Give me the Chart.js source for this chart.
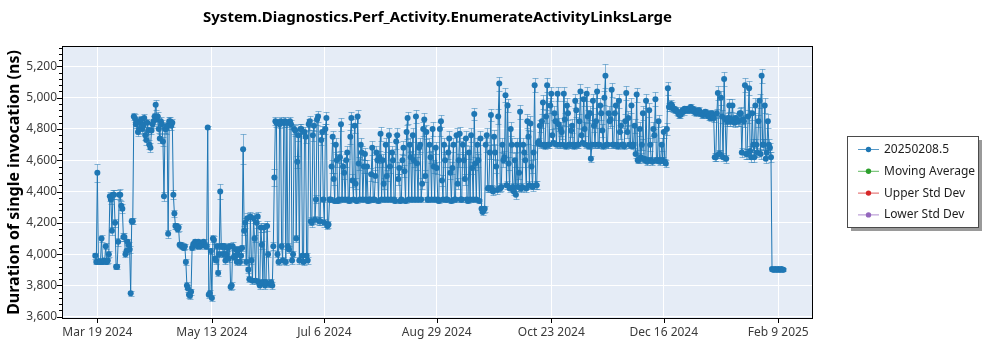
<!DOCTYPE html>
<html>
<head>
<meta charset="utf-8">
<script src="https://cdn.jsdelivr.net/npm/chart.js@4.4.1/dist/chart.umd.min.js"></script>
<style>
  html, body { margin: 0; padding: 0; background: #ffffff; }
  #wrap { width: 1000px; height: 350px; position: relative; }
</style>
</head>
<body>
<div id="wrap"><canvas id="perf" width="1000" height="350"></canvas></div>
<script>
// Benchmark history: two runs per day, x = days after Mar 18 2024
const chartTitle = 'System.Diagnostics.Perf_Activity.EnumerateActivityLinksLarge';
const yAxisTitle = 'Duration of single invocation (ns)';
const seriesNames = ['20250208.5', 'Moving Average', 'Upper Std Dev', 'Lower Std Dev'];
const seriesColors = ['#1f77b4', '#2ca02c', '#d62728', '#9467bd'];

const xTickDays = [1, 56, 110, 164, 219, 273, 328];
const xTickLabels = ['Mar 19 2024', 'May 13 2024', 'Jul 6 2024', 'Aug 29 2024', 'Oct 23 2024', 'Dec 16 2024', 'Feb 9 2025'];
const yTickValues = [3600, 3800, 4000, 4200, 4400, 4600, 4800, 5000, 5200];

// Mean duration (ns), morning run of each day
const durations = [
  3990, 4520, 3955, 4100, 3960, 4050, 3960, 4370, 4150, 4380,
  3920, 4080, 4380, 4290, 4110, 4020, 4060, 3750, 4210, 4870,
  4850, 4800, 4860, 4820, 4760, 4840, 4700, 4790, 4850, 4955,
  4880, 4740, 4830, 4370, 4800, 4130, 4850, 4840, 4260, 4180,
  4170, 4060, 4050, 4050, 3800, 3740, 3760, 4060, 4080, 4050,
  4070, 4060, 4080, 4050, 4810, 3750, 3720, 4090, 3960, 3880,
  4400, 4050, 4050, 4000, 3970, 3790, 4050, 3990, 3950, 4030,
  3990, 4670, 4200, 4230, 3840, 3960, 4230, 3830, 4240, 3800,
  4060, 4170, 3820, 4000, 3810, 3800, 4490, 4840, 3950, 4850,
  3960, 4850, 4840, 4030, 4830, 4000, 4790, 4590, 3960, 4800,
  3950, 4750, 3960, 4850, 4200, 4820, 4350, 4880, 4210, 4780,
  4200, 4870, 4190, 4350, 4750, 4340, 4600, 4350, 4830, 4560,
  4350, 4650, 4340, 4870, 4350, 4450, 4880, 4350, 4650, 4560,
  4350, 4340, 4350, 4680, 4350, 4650, 4340, 4770, 4600, 4350,
  4500, 4760, 4350, 4600, 4340, 4760, 4550, 4350, 4680, 4340,
  4870, 4700, 4350, 4600, 4880, 4350, 4700, 4450, 4860, 4780,
  4350, 4620, 4800, 4350, 4550, 4340, 4850, 4350, 4600, 4350,
  4740, 4340, 4700, 4350, 4450, 4770, 4350, 4600, 4740, 4340,
  4350, 4550, 4895, 4350, 4600, 4740, 4270, 4290, 4760, 4420,
  4890, 4400, 4650, 4410, 5090, 4430, 4600, 5015, 4950, 4420,
  4700, 4400, 4380, 4430, 4910, 4430, 4650, 4420, 4750, 4835,
  4430, 5080, 4440, 4720, 4700, 4970, 4690, 5080, 4700, 5025,
  4710, 4850, 5025, 4700, 4780, 5025, 4690, 4900, 4700, 4820,
  4690, 4920, 4700, 5040, 4710, 4800, 5025, 4690, 4610, 4980,
  4700, 5040, 4700, 4900, 4690, 5140, 4700, 4850, 5050, 4700,
  4950, 4690, 4780, 4700, 4690, 5030, 4870, 4700, 4690, 4820,
  5020, 4600, 4620, 4900, 4600, 4590, 4920, 4600, 4800, 4990,
  4600, 4590, 4700, 4780, 4580, 5060, 4940, 4950, 4930, 4920,
  4900, 4890, 4920, 4930, 4925, 4920, 4940, 4930, 4920, 4910,
  4920, 4900, 4890, 4910, 4900, 4880, 4900, 4870, 4620, 5030,
  4640, 4880, 5120, 4610, 4870, 4850, 4950, 4840, 4860, 4850,
  4900, 4860, 5080, 4640, 5060, 4620, 4700, 4950, 4650, 4980,
  5140, 4700, 4610, 4850, 4680, 3905, 3900, 3900, 3905, 3900,
  3900
];

// Mean duration (ns), evening run of each day
const durationsLate = [
  3950, 3955, 3950, 3950, 3955, 3950, 4000, 4350, 4380, 4200,
  3920, 4380, 4310, 4110, 4000, 4080, 4030, 4210, 4880, 4830,
  4780, 4840, 4800, 4870, 4730, 4790, 4680, 4830, 4880, 4860,
  4800, 4850, 4720, 4800, 4820, 4850, 4820, 4380, 4180, 4160,
  4060, 4050, 4040, 3950, 3780, 3735, 4040, 4070, 4060, 4080,
  4050, 4070, 4060, 4050, 3740, 4020, 4100, 3970, 4050, 4000,
  4050, 4000, 3960, 4040, 4050, 3800, 3980, 4030, 4000, 3950,
  4040, 4150, 3950, 3900, 4240, 3830, 4100, 4200, 3820, 4170,
  3820, 3800, 4180, 3810, 3820, 4050, 4850, 4000, 4830, 4050,
  4840, 3950, 4050, 4850, 3960, 4800, 4100, 4760, 4800, 3990,
  4780, 3990, 4830, 4210, 4760, 4220, 4860, 4210, 4730, 4350,
  4800, 4180, 4350, 4560, 4480, 4700, 4340, 4620, 4350, 4520,
  4600, 4350, 4750, 4470, 4820, 4340, 4580, 4700, 4350, 4640,
  4560, 4350, 4510, 4350, 4500, 4600, 4620, 4350, 4450, 4700,
  4350, 4560, 4650, 4350, 4720, 4480, 4340, 4600, 4530, 4780,
  4350, 4620, 4760, 4350, 4580, 4680, 4350, 4800, 4500, 4350,
  4700, 4350, 4560, 4680, 4350, 4800, 4470, 4700, 4350, 4650,
  4520, 4550, 4350, 4760, 4600, 4350, 4700, 4480, 4350, 4650,
  4760, 4350, 4580, 4700, 4340, 4290, 4280, 4700, 4420, 4650,
  4420, 4750, 4560, 4880, 4420, 4700, 4620, 4440, 4580, 4800,
  4430, 4600, 4700, 4520, 4420, 4700, 4600, 4850, 4440, 4560,
  4650, 4440, 4710, 4820, 4850, 4700, 4880, 4700, 4950, 4760,
  4900, 4700, 4830, 4800, 4700, 4860, 4950, 4700, 4790, 4700,
  4980, 4700, 4850, 4760, 4990, 4700, 4880, 4900, 4700, 4820,
  4850, 4700, 4950, 4790, 5000, 4700, 4900, 4860, 4700, 4900,
  4700, 4980, 4820, 4700, 4850, 4780, 4700, 4950, 4700, 4640,
  4600, 4800, 4700, 4610, 4980, 4600, 4700, 4590, 4760, 4600,
  4850, 4600, 4600, 4590, 4800, 4940, 4960, 4930, 4920, 4910,
  4890, 4900, 4910, 4920, 4930, 4930, 4920, 4910, 4900, 4910,
  4900, 4890, 4900, 4890, 4880, 4870, 4880, 4620, 4900, 4640,
  5000, 4620, 4860, 4850, 4950, 4860, 4850, 4870, 4850, 4900,
  4650, 4850, 4640, 4880, 4660, 4900, 4620, 4700, 4850, 4640,
  4700, 4950, 4650, 4700, 4620, 3900, 3905, 3900, 3900, 3905,
  3900
];

// Half-width of the error bar (ns), morning runs
const stdErrors = [
  20, 57, 15, 25, 15, 20, 15, 30, 25, 30,
  15, 25, 35, 30, 25, 20, 20, 15, 20, 25,
  25, 30, 25, 25, 30, 25, 30, 25, 30, 32,
  30, 30, 25, 30, 30, 25, 25, 25, 25, 20,
  20, 20, 15, 15, 20, 20, 20, 15, 15, 15,
  15, 15, 15, 15, 10, 20, 20, 25, 20, 20,
  50, 20, 20, 20, 20, 20, 25, 20, 20, 20,
  20, 95, 30, 30, 20, 25, 30, 20, 30, 20,
  25, 30, 20, 20, 20, 20, 55, 25, 20, 25,
  20, 25, 25, 20, 30, 20, 35, 40, 20, 35,
  20, 40, 20, 35, 25, 35, 25, 35, 25, 40,
  25, 40, 20, 15, 40, 15, 40, 15, 40, 40,
  15, 40, 15, 40, 15, 35, 40, 15, 40, 40,
  15, 15, 15, 45, 15, 40, 15, 45, 40, 15,
  35, 45, 15, 40, 15, 45, 40, 15, 45, 15,
  40, 45, 15, 40, 40, 15, 45, 35, 40, 45,
  15, 40, 45, 15, 40, 15, 40, 15, 40, 15,
  45, 15, 45, 15, 35, 45, 15, 40, 45, 15,
  15, 40, 40, 15, 40, 45, 20, 20, 45, 25,
  40, 25, 45, 25, 45, 25, 45, 45, 40, 25,
  45, 25, 25, 25, 45, 25, 45, 25, 45, 45,
  25, 45, 25, 25, 20, 45, 20, 45, 20, 45,
  20, 45, 45, 20, 45, 45, 20, 45, 20, 45,
  20, 45, 20, 45, 20, 45, 45, 20, 20, 45,
  20, 45, 20, 45, 20, 77, 20, 45, 45, 20,
  45, 20, 45, 20, 20, 45, 45, 20, 20, 45,
  45, 20, 25, 45, 20, 20, 45, 20, 45, 45,
  20, 20, 40, 40, 20, 40, 25, 20, 20, 20,
  20, 20, 20, 20, 20, 20, 20, 20, 20, 20,
  20, 20, 20, 20, 20, 20, 20, 25, 25, 45,
  25, 40, 45, 25, 35, 30, 40, 30, 30, 30,
  40, 30, 45, 30, 45, 30, 35, 45, 30, 45,
  45, 35, 30, 45, 30, 10, 10, 10, 10, 10,
  10
];

// Half-width of the error bar (ns), evening runs
const stdErrorsLate = [
  15, 15, 15, 15, 15, 15, 20, 30, 30, 25,
  15, 30, 30, 25, 20, 20, 20, 20, 25, 25,
  25, 25, 25, 25, 30, 25, 30, 25, 25, 25,
  25, 25, 30, 25, 25, 25, 25, 30, 20, 20,
  15, 15, 15, 20, 20, 20, 15, 15, 15, 15,
  15, 15, 15, 15, 20, 20, 25, 20, 20, 20,
  20, 20, 20, 20, 20, 20, 20, 20, 20, 20,
  20, 30, 20, 20, 30, 20, 25, 30, 20, 30,
  20, 20, 30, 20, 20, 25, 25, 20, 25, 20,
  25, 20, 20, 25, 20, 30, 25, 35, 30, 20,
  35, 20, 35, 25, 35, 25, 35, 25, 35, 15,
  35, 20, 15, 40, 40, 45, 15, 40, 15, 40,
  40, 15, 45, 40, 45, 15, 40, 45, 15, 40,
  40, 15, 40, 15, 40, 40, 40, 15, 35, 45,
  15, 40, 40, 15, 45, 35, 15, 40, 40, 45,
  15, 40, 45, 15, 40, 40, 15, 45, 40, 15,
  45, 15, 40, 40, 15, 45, 35, 45, 15, 40,
  40, 40, 15, 45, 40, 15, 45, 35, 15, 40,
  45, 15, 40, 45, 15, 20, 20, 45, 25, 45,
  25, 45, 40, 45, 25, 45, 40, 25, 40, 45,
  25, 45, 45, 40, 25, 45, 40, 45, 25, 40,
  45, 25, 20, 40, 45, 20, 40, 20, 45, 40,
  45, 20, 40, 45, 20, 40, 45, 20, 40, 20,
  45, 20, 45, 40, 45, 20, 40, 45, 20, 40,
  45, 20, 45, 40, 45, 20, 45, 40, 20, 45,
  20, 45, 40, 20, 45, 40, 20, 45, 20, 25,
  20, 45, 35, 20, 45, 20, 40, 20, 40, 20,
  40, 20, 20, 20, 40, 25, 25, 20, 20, 20,
  20, 20, 20, 20, 20, 20, 20, 20, 20, 20,
  20, 20, 20, 20, 20, 20, 20, 25, 30, 25,
  45, 25, 30, 30, 40, 30, 30, 30, 30, 35,
  30, 35, 30, 40, 30, 40, 30, 35, 40, 30,
  35, 45, 30, 35, 30, 10, 10, 10, 10, 10,
  10
];

// Interleave the two daily runs into one time-ordered series
const runPoints = [];
const runErrors = [];
durations.forEach((v, day) => {
  runPoints.push({ x: day, y: v });
  runErrors.push(stdErrors[day]);
  runPoints.push({ x: day + 0.5, y: durationsLate[day] });
  runErrors.push(stdErrorsLate[day]);
});

const FONT = '"Noto Sans", "Open Sans", sans-serif';
const TICK_COLOR = '#3a3a3a';

// Plot background, error bars, frame, axis tick marks, titles and legend box
const decorations = {
  id: 'decorations',
  beforeDraw(chart) {
    const { ctx, chartArea: a } = chart;
    ctx.save();
    ctx.fillStyle = '#e5ecf6';
    ctx.fillRect(a.left, a.top, a.right - a.left, a.bottom - a.top);
    ctx.restore();
  },
  beforeDatasetsDraw(chart) {
    const { ctx, chartArea: a, scales } = chart;
    const pts = chart.data.datasets[0].data;
    ctx.save();
    ctx.beginPath();
    ctx.rect(a.left, a.top, a.right - a.left, a.bottom - a.top);
    ctx.clip();
    ctx.strokeStyle = 'rgba(31,119,180,0.5)';
    ctx.lineWidth = 1;
    ctx.beginPath();
    pts.forEach((p, i) => {
      const e = runErrors[i];
      const px = Math.round(scales.x.getPixelForValue(p.x)) + 0.5;
      const top = Math.round(scales.y.getPixelForValue(p.y + e)) + 0.5;
      const bot = Math.round(scales.y.getPixelForValue(p.y - e)) + 0.5;
      ctx.moveTo(px, top); ctx.lineTo(px, bot);
      ctx.moveTo(px - 3, top); ctx.lineTo(px + 3, top);
      ctx.moveTo(px - 3, bot); ctx.lineTo(px + 3, bot);
    });
    ctx.stroke();
    ctx.restore();
  },
  afterDraw(chart) {
    const { ctx, chartArea: a, scales } = chart;
    ctx.save();
    // frame
    ctx.strokeStyle = '#000000';
    ctx.lineWidth = 1;
    ctx.strokeRect(Math.round(a.left) - 0.5, Math.round(a.top) - 0.5,
                   Math.round(a.right - a.left) + 1, Math.round(a.bottom - a.top) + 1);
    // y tick marks: major every 200, minor every 40
    ctx.beginPath();
    for (let v = 3600; v <= 5320; v += 40) {
      const y = Math.round(scales.y.getPixelForValue(v)) + 0.5;
      const len = (v % 200 === 0) ? 5 : 3;
      ctx.moveTo(a.left - 1, y); ctx.lineTo(a.left - 1 - len, y);
    }
    // x tick marks
    xTickDays.forEach(d => {
      const x = Math.round(scales.x.getPixelForValue(d)) + 0.5;
      ctx.moveTo(x, a.bottom); ctx.lineTo(x, a.bottom + 5);
    });
    ctx.stroke();

    // chart title, centred over the plot area
    ctx.fillStyle = '#000000';
    ctx.font = 'bold 15px ' + FONT;
    ctx.textAlign = 'center';
    ctx.textBaseline = 'middle';
    ctx.fillText(chartTitle, (a.left + a.right) / 2, 18);

    // y axis title
    ctx.save();
    ctx.translate(14, (a.top + a.bottom) / 2);
    ctx.rotate(-Math.PI / 2);
    ctx.font = 'bold 16px ' + FONT;
    ctx.fillText(yAxisTitle, 0, 0);
    ctx.restore();

    // legend box with drop shadow
    const bx = 847.5, by = 136.5, bw = 131, bh = 91;
    ctx.fillStyle = '#9a9a9a';
    ctx.fillRect(bx + 3.5, by + 3.5, bw, bh);
    ctx.fillStyle = '#ffffff';
    ctx.fillRect(bx, by, bw, bh);
    ctx.strokeStyle = '#4a4a4a';
    ctx.strokeRect(bx, by, bw, bh);
    ctx.font = '12px ' + FONT;
    ctx.textAlign = 'left';
    ctx.textBaseline = 'middle';
    chart.data.datasets.forEach((ds, i) => {
      const ry = 149.5 + i * 21.8;
      ctx.strokeStyle = ds.borderColor;
      ctx.globalAlpha = 0.75;
      ctx.lineWidth = 1;
      ctx.beginPath();
      ctx.moveTo(858, ry); ctx.lineTo(879, ry);
      ctx.stroke();
      ctx.globalAlpha = 1;
      ctx.fillStyle = ds.borderColor;
      ctx.beginPath();
      ctx.arc(868.5, ry, 2.7, 0, Math.PI * 2);
      ctx.fill();
      ctx.fillStyle = '#1e1e1e';
      ctx.fillText(ds.label, 884, ry);
    });
    ctx.restore();
  }
};

const datasets = seriesNames.map((name, k) => ({
  label: name,
  data: k === 0 ? runPoints : [],
  borderColor: seriesColors[k],
  backgroundColor: seriesColors[k],
  borderWidth: 1,
  pointRadius: 3,
  pointBorderWidth: 0,
  pointBackgroundColor: seriesColors[k],
  tension: 0
}));

new Chart(document.getElementById('perf'), {
  type: 'line',
  data: { datasets },
  options: {
    responsive: false,
    animation: false,
    devicePixelRatio: 1,
    layout: { padding: { left: 0, right: 188, top: 47, bottom: 0 } },
    plugins: {
      legend: { display: false },
      title: { display: false },
      tooltip: { enabled: false }
    },
    scales: {
      x: {
        type: 'linear',
        min: -15.5,
        max: 344.2,
        border: { display: false },
        grid: { color: '#ffffff', lineWidth: 1, drawTicks: false },
        afterBuildTicks: s => { s.ticks = xTickDays.map(v => ({ value: v })); },
        afterFit: s => { s.height = 32; },
        ticks: {
          padding: 7,
          maxRotation: 0,
          autoSkip: false,
          color: TICK_COLOR,
          font: { family: FONT, size: 12 },
          callback: v => xTickLabels[xTickDays.indexOf(v)]
        }
      },
      y: {
        type: 'linear',
        min: 3592,
        max: 5324,
        border: { display: false },
        grid: { color: '#ffffff', lineWidth: 1, drawTicks: false },
        afterBuildTicks: s => { s.ticks = yTickValues.map(v => ({ value: v })); },
        afterFit: s => { s.width = 63; },
        ticks: {
          padding: 6,
          color: TICK_COLOR,
          font: { family: FONT, size: 12 },
          callback: v => v.toLocaleString('en-US')
        }
      }
    }
  },
  plugins: [decorations]
});
</script>
</body>
</html>
